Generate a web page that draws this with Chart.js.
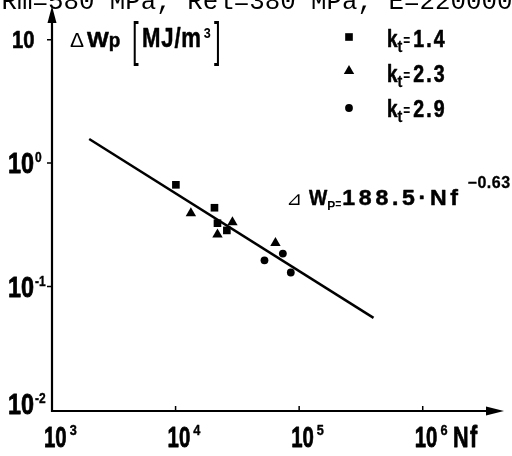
<!DOCTYPE html>
<html>
<head>
<meta charset="utf-8">
<script src="https://cdn.jsdelivr.net/npm/chart.js@4/dist/chart.umd.min.js"></script>
<style>
  html, body { margin: 0; padding: 0; background: #fff; }
  canvas { display: block; }
</style>
</head>
<body>
<canvas id="c" width="512" height="456"></canvas>
<script>
// Plastic strain energy per cycle (MJ/m^3) against cycles to failure Nf
const ktLabels = ['1.4', '2.3', '2.9'];
const nfKt14 = [10060, 20640, 21830, 26000];
const wpKt14 = [0.667, 0.435, 0.326, 0.285];
const nfKt23 = [13300, 28850, 21830, 64300];
const wpKt23 = [0.393, 0.332, 0.264, 0.225];
const nfKt29 = [52400, 73800, 85600];
const wpKt29 = [0.163, 0.185, 0.130];

// fitted law  ΔWp = A · Nf^b, drawn between these two lives
const fitA = 188.5;
const fitB = -0.63;
const fitNf = [2000, 400000];

const xTicks = [1e3, 1e4, 1e5, 1e6];
const xTickExp = ['3', '4', '5', '6'];
const yTicks = [1e-2, 1e-1, 1e0, 1e1];
const yTickExp = ['-2', '-1', '0', ''];
const headerText = 'Rm=580 MPa, Rel=380 MPa, E=220000 MPa';

const pairs = (xs, ys) => xs.map((x, i) => ({ x: x, y: ys[i] }));
const fitPoints = fitNf.map(n => ({ x: n, y: fitA * Math.pow(n, fitB) }));

const SANS = '"Liberation Sans", Arial, sans-serif';
const MONO = '"Liberation Mono", "Courier New", monospace';
const MARK = [
  { style: 'rect', radius: 5.4 },
  { style: 'triangle', radius: 6 },
  { style: 'circle', radius: 3.9 }
];

// draw a text run with horizontal condensing; returns the x where it ends
function run(ctx, text, x, y, size, o) {
  o = o || {};
  const sx = o.sx == null ? 1 : o.sx;
  ctx.save();
  ctx.font = (o.weight || 'bold') + ' ' + size + 'px ' + (o.family || SANS);
  ctx.letterSpacing = (o.ls || 0) + 'px';
  ctx.textAlign = 'left';
  ctx.textBaseline = 'alphabetic';
  ctx.fillStyle = '#000';
  ctx.strokeStyle = '#000';
  ctx.translate(x, y);
  ctx.scale(sx, 1);
  ctx.fillText(text, 0, 0);
  if (o.heavy) {
    ctx.lineWidth = o.heavy;
    ctx.lineJoin = 'round';
    ctx.strokeText(text, 0, 0);
  }
  const w = ctx.measureText(text).width * sx;
  ctx.restore();
  return x + w;
}

function marker(ctx, style, r, x, y) {
  ctx.beginPath();
  if (style === 'rect') {
    const s = Math.SQRT1_2 * r;
    ctx.rect(x - s, y - s, 2 * s, 2 * s);
  } else if (style === 'triangle') {
    const a = -Math.PI / 2;
    for (let k = 0; k < 3; k++) {
      const t = a + k * 2 * Math.PI / 3;
      const px = x + Math.cos(t) * r, py = y + Math.sin(t) * r;
      if (k === 0) ctx.moveTo(px, py); else ctx.lineTo(px, py);
    }
    ctx.closePath();
  } else {
    ctx.arc(x, y, r, 0, Math.PI * 2);
  }
  ctx.fill();
}

const decor = {
  id: 'decor',
  afterDraw(chart) {
    const ctx = chart.ctx;
    const xs = chart.scales.x, ys = chart.scales.y;
    const x0 = xs.getPixelForValue(xTicks[0]);
    const y0 = ys.getPixelForValue(yTicks[0]) + 1;
    ctx.save();
    ctx.fillStyle = '#000';
    ctx.strokeStyle = '#000';

    // header line (runs off the top edge)
    run(ctx, headerText, 1.5, 9, 25.8, { weight: 'normal', family: MONO });

    // axes with arrow heads
    ctx.lineWidth = 2.2;
    ctx.beginPath();
    ctx.moveTo(x0, y0 + 1);
    ctx.lineTo(x0, 18);
    ctx.moveTo(x0 - 1, y0);
    ctx.lineTo(492, y0);
    ctx.stroke();
    ctx.beginPath();
    ctx.moveTo(x0, 6); ctx.lineTo(x0 + 4.5, 23); ctx.lineTo(x0 - 4.5, 23); ctx.closePath();
    ctx.fill();
    ctx.beginPath();
    ctx.moveTo(504, y0); ctx.lineTo(486, y0 - 4.5); ctx.lineTo(486, y0 + 4.5); ctx.closePath();
    ctx.fill();

    // ticks
    ctx.lineWidth = 1.5;
    ctx.beginPath();
    xTicks.forEach(v => {
      const px = xs.getPixelForValue(v);
      ctx.moveTo(px, y0 - 5); ctx.lineTo(px, y0);
    });
    yTicks.slice(1).forEach(v => {
      const py = ys.getPixelForValue(v);
      ctx.moveTo(x0 - 5, py); ctx.lineTo(x0, py);
    });
    ctx.stroke();

    // x tick labels
    xTicks.forEach((v, i) => {
      const px = xs.getPixelForValue(v);
      const e = run(ctx, '10', px - 8, 447, 30, { sx: 0.68, heavy: 0.8 });
      run(ctx, xTickExp[i], e + 3, 435, 15, { sx: 0.85, heavy: 0.4 });
    });
    run(ctx, 'Nf', 453, 447, 30, { sx: 0.72, ls: 2, heavy: 0.8 });

    // y tick labels
    yTicks.forEach((v, i) => {
      const py = ys.getPixelForValue(v);
      if (yTickExp[i] === '') {
        run(ctx, '10', 12, py + 8, 23, { sx: 0.88, heavy: 0.6 });
      } else {
        const base = i === 0 ? py + 4 : py + 10;
        const e = run(ctx, '10', 8, base, 30, { sx: 0.78, heavy: 0.8 });
        run(ctx, yTickExp[i], e + 1, base - 11, 15, { sx: 0.8, heavy: 0.4 });
      }
    });

    // y axis title  ΔWp [MJ/m3]
    run(ctx, 'Δ', 70, 47, 21, { weight: 'normal' });
    let e = run(ctx, 'W', 87, 47, 22, { sx: 1.05, heavy: 0.5 });
    run(ctx, 'p', e, 47, 21, { sx: 0.9, heavy: 0.5 });
    run(ctx, '[', 132, 56, 48, { weight: 'normal', sx: 0.5 });
    e = run(ctx, 'MJ/m', 142, 47, 27, { sx: 0.82, ls: 1, heavy: 0.5 });
    run(ctx, '3', e + 2, 38, 14, { sx: 0.9 });
    run(ctx, ']', 214, 56, 48, { weight: 'normal', sx: 0.5 });

    // legend
    const rowsMarker = [37, 71, 108];
    const rowsBase = [47, 82, 117];
    ktLabels.forEach((lab, i) => {
      marker(ctx, MARK[i].style, MARK[i].radius, 349, rowsMarker[i]);
      let t = run(ctx, 'k', 387, rowsBase[i], 23, { sx: 0.82, heavy: 0.6 });
      t = run(ctx, 't', t, rowsBase[i] + 5, 16, { sx: 0.9, heavy: 0.3 });
      t = run(ctx, '=', t + 1, rowsBase[i] - 1, 17, { sx: 0.7 });
      run(ctx, lab, t + 3, rowsBase[i], 23, { sx: 0.85, ls: 2.5, heavy: 0.6 });
    });

    // regression equation
    run(ctx, '⊿', 286, 205, 19, { weight: 'normal', family: '"DejaVu Sans", "Noto Sans CJK JP", sans-serif' });
    e = run(ctx, 'W', 309, 205, 22, { sx: 0.88, heavy: 0.5 });
    e = run(ctx, 'P', e, 210, 12, { sx: 1 });
    e = run(ctx, '=', e, 208, 13, { sx: 0.8 });
    e = run(ctx, fitA.toFixed(1) + '·Nf', e + 1, 205, 22, { sx: 1.05, ls: 3.5, heavy: 0.5 });
    run(ctx, '−' + Math.abs(fitB).toFixed(2), e + 6, 188, 16, { sx: 1, ls: 0.5, heavy: 0.3 });

    ctx.restore();
  }
};

new Chart(document.getElementById('c'), {
  type: 'scatter',
  data: {
    datasets: [
      {
        label: 'kt=' + ktLabels[0], data: pairs(nfKt14, wpKt14),
        pointStyle: MARK[0].style, pointRadius: MARK[0].radius,
        backgroundColor: '#000', borderWidth: 0
      },
      {
        label: 'kt=' + ktLabels[1], data: pairs(nfKt23, wpKt23),
        pointStyle: MARK[1].style, pointRadius: MARK[1].radius,
        backgroundColor: '#000', borderWidth: 0
      },
      {
        label: 'kt=' + ktLabels[2], data: pairs(nfKt29, wpKt29),
        pointStyle: MARK[2].style, pointRadius: MARK[2].radius,
        backgroundColor: '#000', borderWidth: 0
      },
      {
        label: 'fit', data: fitPoints, showLine: true,
        borderColor: '#000', borderWidth: 2.5, pointRadius: 0
      }
    ]
  },
  options: {
    responsive: false,
    animation: false,
    layout: { padding: { left: 52, right: 12, top: 5, bottom: 46 } },
    plugins: { legend: { display: false }, tooltip: { enabled: false } },
    scales: {
      x: { type: 'logarithmic', min: 1000, max: 4.22e6, display: false },
      y: { type: 'logarithmic', min: 0.01, max: 18.74, display: false }
    }
  },
  plugins: [decor]
});
</script>
</body>
</html>
